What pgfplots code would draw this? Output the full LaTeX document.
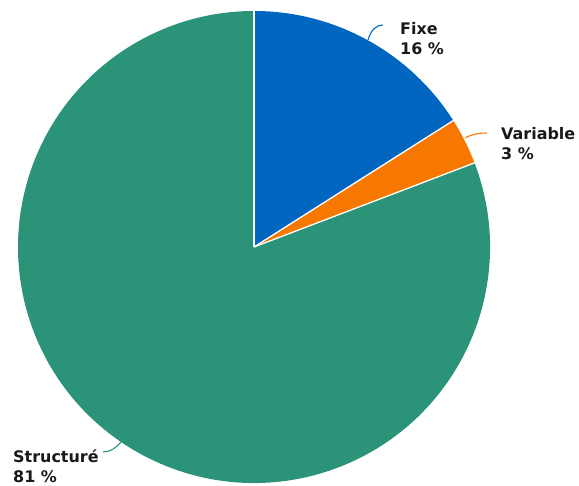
\documentclass[border=0pt]{standalone}
\usepackage{pgfplots}
\pgfplotsset{compat=1.18}
\usepackage{fontspec}
\setmainfont{DejaVu Sans}
\definecolor{cFixe}{RGB}{0,102,191}
\definecolor{cVar}{RGB}{247,120,0}
\definecolor{cStruct}{RGB}{42,147,120}
\begin{document}
\begin{tikzpicture}
\begin{axis}[x=1bp,y=1bp,xmin=0,xmax=579,ymin=0,ymax=486,hide axis,clip=false]
% shares (percent): Fixe 16.0, Variable 3.2, Structure 80.8
\pgfmathsetmacro{\aA}{90}
\pgfmathsetmacro{\aB}{90-16.0*3.6}
\pgfmathsetmacro{\aC}{\aB-3.2*3.6}
\pgfmathsetmacro{\aD}{\aC-80.8*3.6}
\fill[cFixe] (axis cs:254,239) -- ++(\aA:236bp) arc[start angle=\aA,end angle=\aB,radius=236bp] -- cycle;
\fill[cVar] (axis cs:254,239) -- ++(\aB:236bp) arc[start angle=\aB,end angle=\aC,radius=236bp] -- cycle;
\fill[cStruct] (axis cs:254,239) -- ++(\aC:236bp) arc[start angle=\aC,end angle=\aD,radius=236bp] -- cycle;
\draw[white,line width=1.3bp] (axis cs:254,239) -- ++(\aA:236.5bp);
\draw[white,line width=1.3bp] (axis cs:254,239) -- ++(\aB:236.5bp);
\draw[white,line width=1.3bp] (axis cs:254,239) -- ++(\aC:236.5bp);
% leader lines
\draw[cFixe,line width=1.1bp] (axis cs:368,446) .. controls (axis cs:371,456) and (axis cs:376,461) .. (axis cs:383,461);
\draw[cVar,line width=1.1bp] (axis cs:465,348) .. controls (axis cs:472,352) and (axis cs:480,353) .. (axis cs:487,353);
\draw[cStruct,line width=1.1bp] (axis cs:121,44) .. controls (axis cs:116,38) and (axis cs:110,34) .. (axis cs:103,34);
% labels
\tikzset{lab/.style={anchor=base west,inner sep=0pt,font=\fontsize{16}{19}\selectfont\bfseries,text=black!90}}
\node[lab] at (axis cs:400,451) {Fixe};
\node[lab] at (axis cs:400,431) {16 \%};
\node[lab] at (axis cs:501,346) {Variable};
\node[lab] at (axis cs:501,326) {3 \%};
\node[lab] at (axis cs:13,23) {Structuré};
\node[lab] at (axis cs:13,3) {81 \%};
\coordinate (bl) at (axis cs:0,0);
\coordinate (tr) at (axis cs:579,486);
\end{axis}
\pgfresetboundingbox
\useasboundingbox (bl) rectangle (tr);
\end{tikzpicture}
\end{document}
